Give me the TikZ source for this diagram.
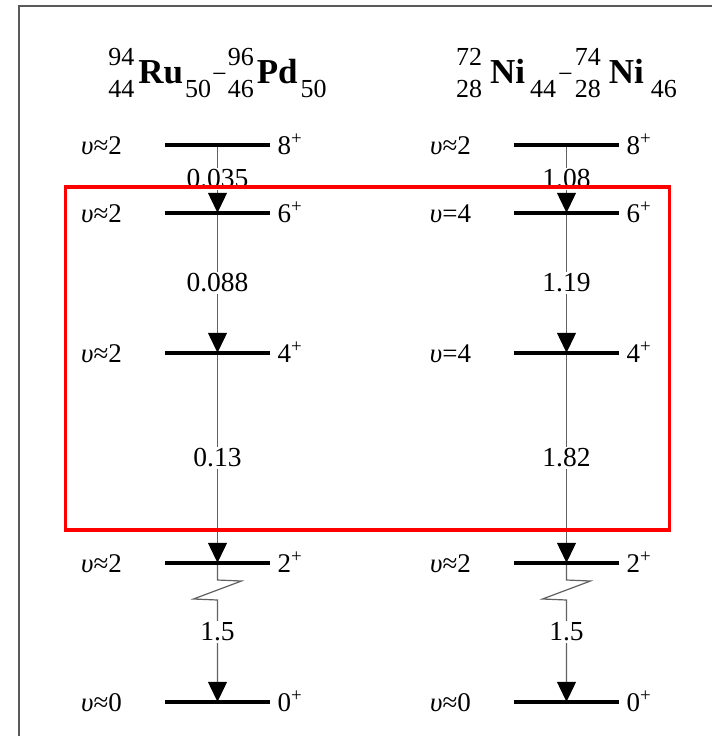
\documentclass[tikz,border=0pt]{standalone}
\usepackage{fontspec}
\setmainfont{Liberation Serif}
\usetikzlibrary{arrows.meta}
\newcommand\scr{\normalfont\fontsize{26}{28}\selectfont}
\newcommand\AZ[3]{\rlap{\raisebox{18pt}{\scr #1}}\raisebox{-14pt}{\scr #2}\kern#3}
\newcommand\Nsub[2]{\kern#2\raisebox{-14pt}{\scr #1}}
\newcommand\ups{{\itshape υ}}
\tikzset{
  bar/.style={fill=black, draw=none, inner sep=0pt, minimum width=104pt, minimum height=4pt},
  trans/.style={draw=black!62, line width=1.2pt, -{Triangle[width=19pt,length=20pt,color=black]}, shorten >=-2pt},
  tlab/.style={fill=white, inner sep=2pt, font=\fontsize{27.5}{30}\selectfont},
  lab/.style={font=\fontsize{27}{30}\selectfont, inner sep=0pt},
  head/.style={font=\fontsize{35}{38}\selectfont\bfseries, inner sep=0pt, anchor=base},
  frame/.style={draw=black!65, line width=2pt},
  hilite/.style={draw=red, line width=3.5pt},
}
\begin{document}
\begin{tikzpicture}[x=1pt,y=-1pt]
\useasboundingbox (0,0) rectangle (712,736);
\fill[white] (0,0) rectangle (712,736);
\draw[frame] (18.5,736) -- (18.5,5.5) -- (712,5.5);

% headings
\node[head] (hA) at (217.5,83) {\AZ{94}{44}{4pt}Ru\Nsub{50}{2pt}\kern1pt{\scr\raisebox{1pt}{−}}\kern1pt\AZ{96}{46}{3pt}Pd\Nsub{50}{3pt}};
\node[head] (hB) at (566.5,83) {\AZ{72}{28}{8pt}Ni\Nsub{44}{5pt}\kern2pt{\scr\raisebox{1pt}{−}}\kern2pt\AZ{74}{28}{8pt}Ni\Nsub{46}{7pt}};

% levels
\foreach \c/\x in {A/217.5, B/566.5} {
  \foreach \j/\y in {8/145, 6/213, 4/353, 2/563, 0/702} {
    \node[bar] (\c\j) at (\x,\y) {};
    \node[lab, anchor=base west] (\c\j s) at ({\x+60},{\y+9}) {\j\textsuperscript{+}};
  }
}

% seniority labels
\node[lab, anchor=base] (A8u) at (101.5,154) {\ups≈2};
\node[lab, anchor=base] (A6u) at (101.5,222) {\ups≈2};
\node[lab, anchor=base] (A4u) at (101.5,362) {\ups≈2};
\node[lab, anchor=base] (A2u) at (101.5,572) {\ups≈2};
\node[lab, anchor=base] (A0u) at (101.5,711) {\ups≈0};
\node[lab, anchor=base] (B8u) at (450.5,154) {\ups≈2};
\node[lab, anchor=base] (B6u) at (450.5,222) {\ups=4};
\node[lab, anchor=base] (B4u) at (450.5,362) {\ups=4};
\node[lab, anchor=base] (B2u) at (450.5,572) {\ups≈2};
\node[lab, anchor=base] (B0u) at (450.5,711) {\ups≈0};

% transitions
\draw[trans] (A8) -- node[tlab] (tA86) {0.035} (A6);
\draw[trans] (A6) -- node[tlab] (tA64) {0.088} (A4);
\draw[trans] (A4) -- node[tlab] (tA42) {0.13} (A2);
\draw[trans] (A2) -- ++(0,17) -- ++(24,1) -- ++(-48,18) -- ++(24,1) -- node[tlab, pos=.32] (tA20) {1.5} (A0);

\draw[trans] (B8) -- node[tlab] (tB86) {1.08} (B6);
\draw[trans] (B6) -- node[tlab] (tB64) {1.19} (B4);
\draw[trans] (B4) -- node[tlab] (tB42) {1.82} (B2);
\draw[trans] (B2) -- ++(0,17) -- ++(24,1) -- ++(-48,18) -- ++(24,1) -- node[tlab, pos=.32] (tB20) {1.5} (B0);

% redraw bars on top
\foreach \c in {A,B} { \foreach \j in {8,6,4,2,0} { \fill[black] (\c\j.south west) rectangle (\c\j.north east); } }

% highlight box
\draw[hilite] (65.5,187) rectangle (669.5,530);
\end{tikzpicture}
\end{document}
